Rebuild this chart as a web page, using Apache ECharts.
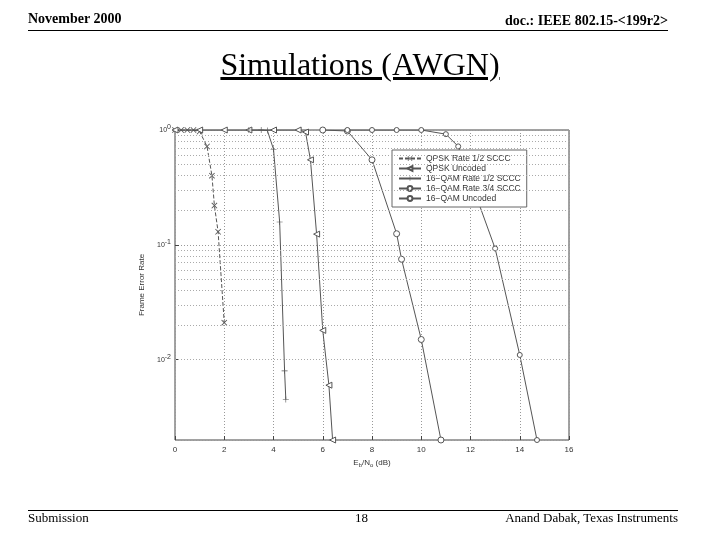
<!DOCTYPE html>
<html><head><meta charset="utf-8">
<script src="https://cdn.jsdelivr.net/npm/echarts@6/dist/echarts.min.js"></script>
<style>
body{margin:0;background:#fff;font-family:"Liberation Serif","Times New Roman",serif;}
#page{position:relative;width:720px;height:540px;}
#chart{position:absolute;left:0;top:0;width:720px;height:540px;}
.t{position:absolute;color:#000;}
</style></head><body>
<div id="page">
<div id="chart"></div>
<div class="t" style="left:28px;top:11px;font-size:14px;font-weight:bold;">November 2000</div>
<div class="t" style="right:52px;top:13px;font-size:14px;font-weight:bold;">doc.: IEEE 802.15-&lt;199r2&gt;</div>
<div style="position:absolute;left:28px;right:52px;top:30px;border-top:1px solid #000;"></div>
<div class="t" style="left:0;width:720px;top:46px;text-align:center;font-size:32px;"><span style="text-decoration:underline;">Simulations (AWGN)</span></div>
<div style="position:absolute;left:28px;right:42px;top:510px;border-top:1px solid #000;"></div>
<div class="t" style="left:28px;top:510px;font-size:13px;">Submission</div>
<div class="t" style="left:355px;top:510px;font-size:13px;">18</div>
<div class="t" style="right:42px;top:510px;font-size:13px;">Anand Dabak, Texas Instruments</div>
</div>
<script>
var chartDom = document.getElementById('chart');
var myChart = echarts.init(chartDom);

var seriesNames = ['QPSK Rate 1/2 SCCC', 'QPSK Uncoded', '16\u2212QAM Rate 1/2 SCCC', '16\u2212QAM Rate 3/4 SCCC', '16\u2212QAM Uncoded'];
var qpskSccc = [[0,1],[0.25,1],[0.5,1],[0.75,1],[1,0.97],[1.3,0.72],[1.5,0.4],[1.6,0.22],[1.75,0.13],[2.0,0.021]];
var qpskUncoded = [[0,1],[1,1],[2,1],[3,1],[4,1],[5,1],[5.3,0.96],[5.5,0.55],[5.75,0.124],[6,0.018],[6.25,0.006],[6.4,0.002]];
var qam12Sccc = [[3,1],[3.5,1],[3.75,0.99],[4,0.68],[4.25,0.158],[4.45,0.008],[4.5,0.0045]];
var qam34Sccc = [[6,1],[7,0.98],[8,0.55],[9,0.125],[9.2,0.075],[10,0.015],[10.8,0.002]];
var qamUncoded = [[7,1],[8,1],[9,1],[10,1],[11,0.92],[11.5,0.72],[13,0.093],[14,0.011],[14.7,0.002]];
var minorLevels = [0.003,0.004,0.005,0.006,0.007,0.008,0.009,0.02,0.03,0.04,0.05,0.06,0.07,0.08,0.09,0.2,0.3,0.4,0.5,0.6,0.7,0.8,0.9];

var xMark = 'path://M0,1L1,0L5,4L9,0L10,1L6,5L10,9L9,10L5,6L1,10L0,9L4,5Z';
var starMark = 'path://M4.5,0H5.5V4.5H10V5.5H5.5V10H4.5V5.5H0V4.5H4.5Z';
var sup = {fontSize: 7, verticalAlign: 'top', padding: [0,0,6,0]};

function line(name, data, symbol, dash, hollow, size) {
    return {
        name: name, type: 'line', data: data, symbol: symbol, symbolSize: size || 6,
        showAllSymbol: true,
        lineStyle: {color: '#555', width: 1, type: dash || 'solid'},
        itemStyle: hollow ? {color: '#fff', borderColor: '#555', borderWidth: 1, borderType: 'solid'}
                          : {color: '#555', borderWidth: 0},
        emphasis: {disabled: true}, animation: false
    };
}

var s0 = line(seriesNames[0], qpskSccc, xMark, [4, 2], false);
s0.markLine = {silent: true, symbol: 'none', label: {show: false}, animation: false,
    lineStyle: {type: [1, 2], color: '#aaa', width: 1},
    data: minorLevels.map(function (v) { return {yAxis: v}; })};
var s1 = line(seriesNames[1], qpskUncoded, 'triangle', 'solid', true);
s1.symbolRotate = 90;

var option = {
    grid: {left: 175, right: 151, top: 130, bottom: 100, show: true, borderColor: '#444', borderWidth: 1},
    legend: {
        orient: 'vertical', left: 392, top: 150, backgroundColor: '#fff', borderColor: '#666', borderWidth: 1,
        padding: [4, 6], itemGap: 1, itemWidth: 22, itemHeight: 6,
        textStyle: {fontFamily: 'Liberation Sans', fontSize: 8.5, color: '#333'}, data: seriesNames
    },
    xAxis: {
        type: 'value', min: 0, max: 16, interval: 2,
        name: '{m|E}{s|b}{m|/N}{s|o}{m| (dB)}', nameLocation: 'middle', nameGap: 16,
        nameTextStyle: {rich: {m: {fontSize: 8, fontFamily: 'Liberation Sans', color: '#333'}, s: {fontSize: 6, verticalAlign: 'bottom', padding: [4,0,0,0], color: '#333'}}},
        axisLine: {show: false}, axisTick: {inside: true, length: 4, lineStyle: {color: '#444'}},
        axisLabel: {fontSize: 8, fontFamily: 'Liberation Sans', color: '#333', margin: 6},
        splitLine: {lineStyle: {type: [1, 2], color: '#999'}}
    },
    yAxis: {
        type: 'log', logBase: 10, min: 0.002, max: 1,
        name: 'Frame Error Rate', nameLocation: 'middle', nameGap: 22, nameRotate: 90,
        nameTextStyle: {fontSize: 8, fontFamily: 'Liberation Sans', color: '#333'},
        axisLine: {show: false}, axisTick: {inside: true, length: 4, lineStyle: {color: '#444'}},
        axisLabel: {
            fontSize: 7, fontFamily: 'Liberation Sans', color: '#333', margin: 4, showMinLabel: false,
            rich: {b: {fontSize: 7}, s: sup},
            formatter: function (v) {
                var e = Math.round(Math.log10(v));
                if (Math.abs(Math.log10(v) - e) > 1e-6) return '';
                return '{b|10}{s|' + e + '}';
            }
        },
        splitLine: {lineStyle: {type: [1, 2], color: '#999'}}
    },
    series: [
        s0,
        s1,
        line(seriesNames[2], qam12Sccc, starMark, 'solid', false),
        line(seriesNames[3], qam34Sccc, 'circle', 'solid', true),
        line(seriesNames[4], qamUncoded, 'circle', 'solid', true, 5)
    ]
};

option && myChart.setOption(option);
</script>
</body></html>
